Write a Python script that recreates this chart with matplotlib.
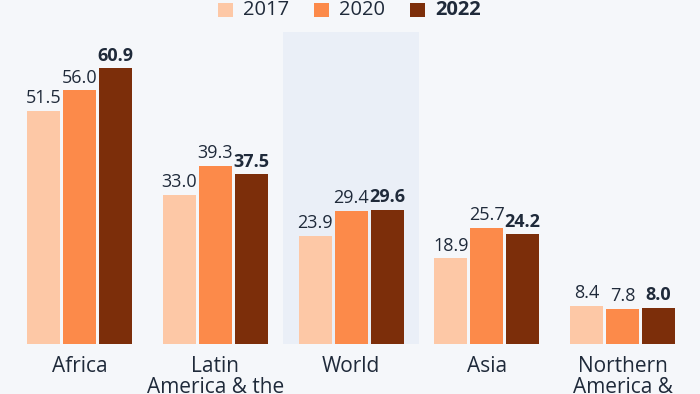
import matplotlib
matplotlib.use("Agg")
import matplotlib.pyplot as plt
from matplotlib.patches import Rectangle

categories = ["Africa", "Latin\nAmerica & the\nCaribbean", "World", "Asia", "Northern\nAmerica &\nEurope"]
years = ["2017", "2020", "2022"]
v2017 = [51.5, 33.0, 23.9, 18.9, 8.4]
v2020 = [56.0, 39.3, 29.4, 25.7, 7.8]
v2022 = [60.9, 37.5, 29.6, 24.2, 8.0]
series = [v2017, v2020, v2022]
colors = ["#fdc8a6", "#fc8a4a", "#7c2e0a"]
highlight = "World"

BG = "#f5f7fa"
TXT = "#1f2a3a"
FONT = ["Open Sans", "DejaVu Sans"]
plt.rcParams['font.family'] = FONT

W, H = 700, 394
fig = plt.figure(figsize=(W/100, H/100), dpi=100, facecolor=BG)

base_px = 344
ppu = 4.53
spacing = 135.75
c0 = 79.5
ax = fig.add_axes([0, 1 - base_px/H, 1, base_px/H])
ax.set_facecolor(BG)
ax.set_xlim(-c0/spacing, (W - c0)/spacing)
ax.set_ylim(0, base_px/ppu)
ax.axis('off')

bw = 33/spacing
step = 36/spacing
xs = list(range(len(categories)))

hi = categories.index(highlight)
ax.add_patch(Rectangle((hi - 68/spacing, 0), 136/spacing, (base_px - 32)/ppu,
                       facecolor="#eaeff7", edgecolor="none", zorder=0))

for j, (vals, col) in enumerate(zip(series, colors)):
    pos = [x + (j - 1)*step for x in xs]
    ax.bar(pos, vals, width=bw, color=col, zorder=2)
    for p, v in zip(pos, vals):
        ax.annotate(f"{v:.1f}", (p, v), xytext=(0, 2.5), textcoords="offset points",
                    ha="center", va="bottom", fontsize=13, color=TXT,
                    fontweight="bold" if j == 2 else "normal", zorder=3)

for x, c in zip(xs, categories):
    ax.text(x, -12/ppu, c, ha="center", va="top", fontsize=15, color=TXT,
            linespacing=1.0, clip_on=False)

# legend
lx = [218, 314, 410]
for x0, y, col in zip(lx, years, colors):
    fig.patches.append(Rectangle((x0/W, 1 - 17/H), 15/W, 14/H, transform=fig.transFigure,
                                 facecolor=col, edgecolor="none"))
    fig.text((x0 + 25)/W, 1 - 10/H, y, ha="left", va="center", fontsize=14.5, color=TXT,
             fontweight="bold" if y == "2022" else "normal")

fig.savefig("out.png", dpi=100, facecolor=BG)
